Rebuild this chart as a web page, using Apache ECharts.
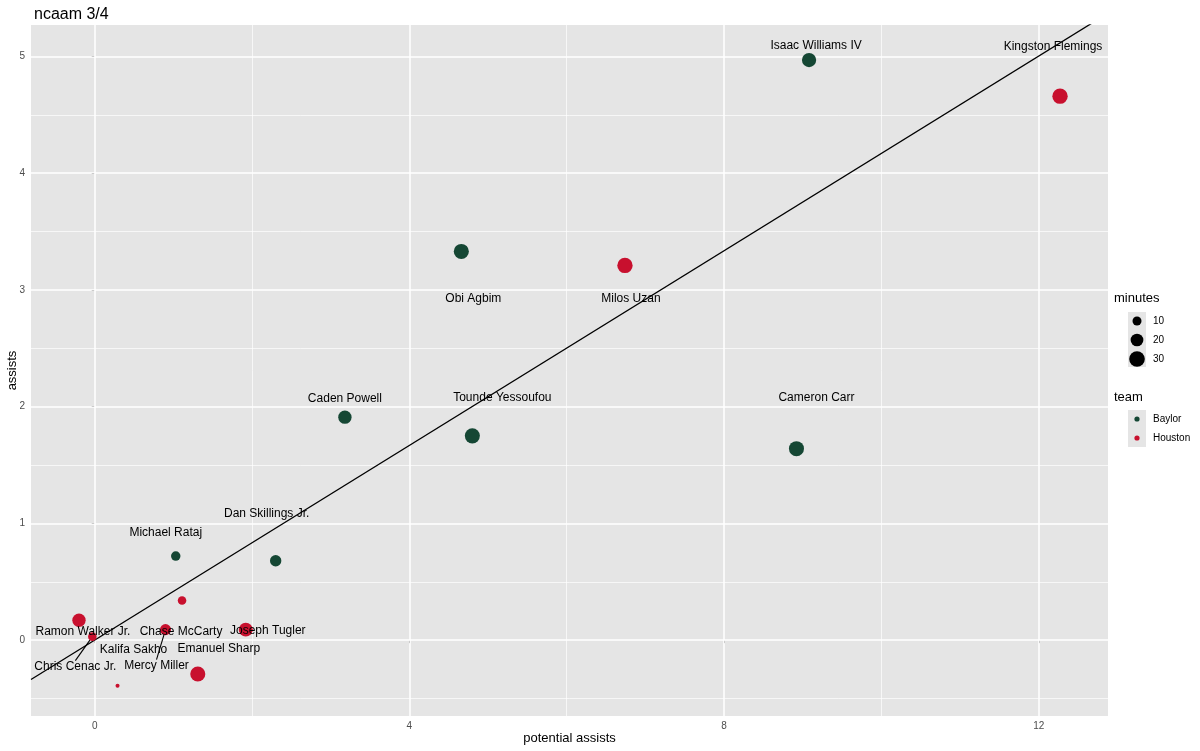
<!DOCTYPE html>
<html lang="en">
<head>
    <meta charset="UTF-8">
    <title>ncaam 3/4</title>
    <script src="https://cdn.jsdelivr.net/npm/echarts@6/dist/echarts.min.js"></script>
    <style>
        html, body { margin: 0; padding: 0; background: #fff; }
        #container { width: 1200px; height: 751px; }
    </style>
</head>
<body>
    <div id="container"></div>
    <script>
        // data
        var players = ['Isaac Williams IV', 'Kingston Flemings', 'Obi Agbim', 'Milos Uzan', 'Caden Powell',
            'Tounde Yessoufou', 'Cameron Carr', 'Dan Skillings Jr.', 'Michael Rataj', 'Ramon Walker Jr.',
            'Chris Cenac Jr.', 'Chase McCarty', 'Mercy Miller', 'Joseph Tugler', 'Kalifa Sakho', 'Emanuel Sharp'];
        var teams = ['Baylor', 'Houston', 'Baylor', 'Houston', 'Baylor',
            'Baylor', 'Baylor', 'Baylor', 'Baylor', 'Houston',
            'Houston', 'Houston', 'Houston', 'Houston', 'Houston', 'Houston'];
        var potentialAssists = [9.08, 12.27, 4.66, 6.74, 3.18, 4.80, 8.92, 2.30, 1.03, -0.20, -0.03, 1.11, 0.90, 1.92, 0.29, 1.31];
        var assists = [4.97, 4.66, 3.33, 3.21, 1.91, 1.75, 1.64, 0.68, 0.72, 0.17, 0.03, 0.34, 0.09, 0.09, -0.39, -0.29];
        var minutes = [25, 29, 28, 29, 22, 28, 28, 16, 11, 22, 9, 9, 15, 24, 2, 28];

        // where ggrepel put each label (pixel offset from the point)
        var labelOffsets = [[7, -14], [-7, -50], [12, 47], [6, 33], [0, -19], [30, -38], [20, -51], [-9, -47],
            [-10, -23], [4, 11], [-17, 30], [-1, 31], [-9, 36], [22, 1], [16, -36], [21, -25]];
        var withSegment = ['Chris Cenac Jr.', 'Mercy Miller'];

        // fitted line y = a + b*x
        var fitIntercept = 0.0;
        var fitSlope = 0.417;

        var teamColors = { Baylor: '#154734', Houston: '#c8102e' };
        var xMin = -0.81, xMax = 12.88, yMin = -0.65, yMax = 5.27;
        var xMajor = [0, 4, 8, 12], xMinor = [2, 6, 10];
        var yMajor = [0, 1, 2, 3, 4, 5], yMinor = [-0.5, 0.5, 1.5, 2.5, 3.5, 4.5];

        var font = '"Liberation Sans", Arial, Helvetica, sans-serif';

        function dotSize(m) { return 2.85 * Math.sqrt(m); }

        var myChart = echarts.init(document.getElementById('container'));

        var seriesList = [];

        // grid lines as markLines so they sit at the right axis values
        var gridLines = [];
        xMinor.forEach(v => gridLines.push({ xAxis: v, lineStyle: { width: 0.7 } }));
        yMinor.forEach(v => gridLines.push({ yAxis: v, lineStyle: { width: 0.7 } }));
        xMajor.forEach(v => gridLines.push({ xAxis: v, lineStyle: { width: 1.5 } }));
        yMajor.forEach(v => gridLines.push({ yAxis: v, lineStyle: { width: 1.5 } }));
        seriesList.push({
            type: 'line',
            data: [],
            silent: true,
            z: 0,
            zlevel: 0,
            markLine: {
                silent: true,
                symbol: 'none',
                label: { show: false },
                animation: false,
                lineStyle: { color: '#ffffff', type: 'solid' },
                data: gridLines
            }
        });

        // the fit line
        seriesList.push({
            type: 'line',
            data: [[xMin, fitIntercept + fitSlope * xMin], [xMax, fitIntercept + fitSlope * xMax]],
            symbol: 'none',
            lineStyle: { color: '#000', width: 1.3 },
            z: 5,
            zlevel: 1,
            silent: true
        });

        ['Baylor', 'Houston'].forEach(team => {
            var pts = [];
            players.forEach((name, i) => {
                if (teams[i] !== team) return;
                pts.push({
                    name: name,
                    value: [potentialAssists[i], assists[i], minutes[i]],
                    labelLine: { show: withSegment.indexOf(name) >= 0 }
                });
            });
            seriesList.push({
                name: team,
                type: 'scatter',
                data: pts,
                symbolSize: v => dotSize(v[2]),
                itemStyle: { color: teamColors[team], opacity: 1 },
                z: 6,
                zlevel: 1,
                label: {
                    show: true,
                    position: 'inside',
                    formatter: p => p.name,
                    color: '#000',
                    fontFamily: font,
                    fontSize: 12
                },
                labelLine: { show: false, lineStyle: { color: '#000', width: 1.1 }, length2: 0 },
                labelLayout: function (params) {
                    var idx = players.indexOf(params.text);
                    var o = labelOffsets[idx];
                    return { dx: o[0], dy: o[1] };
                }
            });
        });

        var legendGraphics = [
            { type: 'text', left: 1114, top: 292, style: { text: 'minutes', font: '13px ' + font, fill: '#000' } },
            { type: 'rect', shape: { x: 1128, y: 312, width: 18, height: 55 }, style: { fill: '#e5e5e5' } },
            { type: 'circle', shape: { cx: 1137, cy: 321, r: dotSize(10) / 2 }, style: { fill: '#000' } },
            { type: 'circle', shape: { cx: 1137, cy: 340, r: dotSize(20) / 2 }, style: { fill: '#000' } },
            { type: 'circle', shape: { cx: 1137, cy: 359, r: dotSize(30) / 2 }, style: { fill: '#000' } },
            { type: 'text', left: 1153, top: 316, style: { text: '10', font: '10px ' + font, fill: '#000' } },
            { type: 'text', left: 1153, top: 335, style: { text: '20', font: '10px ' + font, fill: '#000' } },
            { type: 'text', left: 1153, top: 354, style: { text: '30', font: '10px ' + font, fill: '#000' } },
            { type: 'text', left: 1114, top: 391, style: { text: 'team', font: '13px ' + font, fill: '#000' } },
            { type: 'rect', shape: { x: 1128, y: 410, width: 18, height: 37 }, style: { fill: '#e5e5e5' } },
            { type: 'circle', shape: { cx: 1137, cy: 419, r: 2.6 }, style: { fill: teamColors.Baylor } },
            { type: 'circle', shape: { cx: 1137, cy: 438, r: 2.6 }, style: { fill: teamColors.Houston } },
            { type: 'text', left: 1153, top: 414, style: { text: 'Baylor', font: '10px ' + font, fill: '#000' } },
            { type: 'text', left: 1153, top: 433, style: { text: 'Houston', font: '10px ' + font, fill: '#000' } }
        ];

        myChart.setOption({
            animation: false,
            backgroundColor: '#ffffff',
            title: {
                text: 'ncaam 3/4',
                left: 29,
                top: 2,
                textStyle: { fontFamily: font, fontSize: 16, fontWeight: 'normal', color: '#000' }
            },
            grid: {
                left: 31, top: 25, right: 92, bottom: 35,
                containLabel: false,
                outerBoundsMode: 'none',
                show: true, backgroundColor: '#e5e5e5', borderWidth: 0
            },
            xAxis: {
                type: 'value',
                min: xMin, max: xMax,
                name: 'potential assists',
                nameLocation: 'middle',
                nameGap: 16,
                nameMoveOverlap: false,
                nameTextStyle: { fontFamily: font, fontSize: 13, color: '#000' },
                axisLine: { show: false },
                splitLine: { show: false },
                axisTick: { show: true, length: 3, customValues: xMajor, lineStyle: { color: '#333' } },
                axisLabel: { customValues: xMajor, fontFamily: font, fontSize: 10, color: '#4d4d4d', margin: 5 }
            },
            yAxis: {
                type: 'value',
                min: yMin, max: yMax,
                name: 'assists',
                nameLocation: 'middle',
                nameGap: 12,
                nameMoveOverlap: false,
                nameRotate: 90,
                nameTextStyle: { fontFamily: font, fontSize: 13, color: '#000' },
                axisLine: { show: false },
                splitLine: { show: false },
                axisTick: { show: true, length: 3, customValues: yMajor, lineStyle: { color: '#333' } },
                axisLabel: { customValues: yMajor, fontFamily: font, fontSize: 10, color: '#4d4d4d', margin: 6 }
            },
            graphic: legendGraphics,
            series: seriesList
        });
    </script>
</body>
</html>
